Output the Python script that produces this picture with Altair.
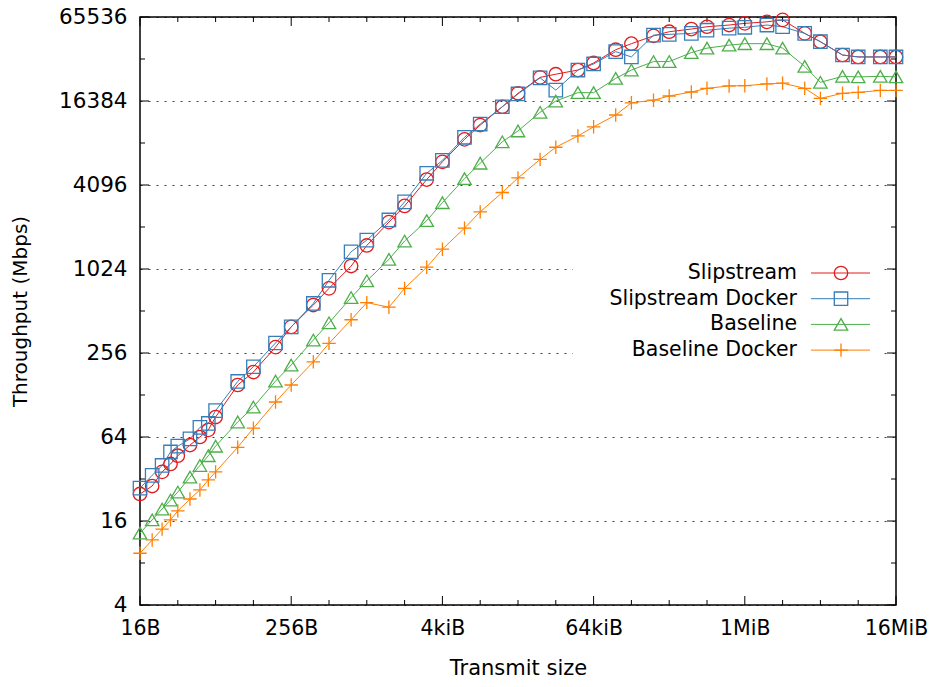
import altair as alt
import pandas as pd

# Transmit sizes in bytes
sizes = [16, 20, 24, 28, 32, 40, 48, 56, 64, 96, 128, 192, 256, 384, 512, 768,
         1024, 1536, 2048, 3072, 4096, 6144, 8192, 12288, 16384, 24576, 32768,
         49152, 65536, 98304, 131072, 196608, 262144, 393216, 524288, 786432,
         1048576, 1572864, 2097152, 3145728, 4194304, 6291456, 8388608,
         12582912, 16777216]

# Throughput in Mbps for each configuration
slipstream = [25, 28.5, 36, 41, 47, 56, 64, 72, 89, 151, 187, 282, 394, 565,
              744, 1075, 1510, 2220, 2900, 4480, 6000, 8700, 11000, 14900,
              18600, 24200, 25500, 27300, 30700, 38200, 42200, 48000, 51400,
              53700, 55800, 57400, 59000, 60500, 62500, 50000, 43600, 35000,
              33900, 33900, 33900]
slipstream_docker = [27.5, 34, 40, 50, 55, 62, 75, 80, 99, 160, 204, 302, 394,
                     580, 850, 1360, 1650, 2300, 3100, 4970, 6150, 9000, 11200,
                     14900, 18400, 24000, 19600, 27300, 30200, 37000, 33900,
                     48600, 49200, 50000, 52700, 54500, 55300, 57400, 55800,
                     50000, 43600, 35000, 33900, 33900, 33900]
baseline = [13.1, 16.3, 19.5, 22.6, 25.8, 33, 40, 47, 55, 82, 105, 161, 210,
            317, 421, 639, 842, 1200, 1625, 2275, 3060, 4550, 5870, 8350,
            10000, 13600, 16384, 18800, 18800, 23800, 27300, 31400, 31400,
            36400, 39200, 41200, 42200, 42200, 39200, 29000, 22300, 24600,
            24400, 24600, 24400]
baseline_docker = [9.4, 11.7, 14, 16.3, 18.9, 23, 26.7, 31.5, 36, 54, 74, 114,
                   151, 221, 300, 443, 588, 545, 744, 1055, 1420, 2010, 2630,
                   3620, 4600, 6250, 7640, 9200, 10700, 13000, 15900, 16600,
                   17800, 19000, 20200, 21000, 21100, 21700, 22000, 20200,
                   17100, 18600, 18900, 19500, 19500]

series_names = ["Slipstream", "Slipstream Docker", "Baseline", "Baseline Docker"]
series_values = [slipstream, slipstream_docker, baseline, baseline_docker]
series_colors = ["#e41a1c", "#377eb8", "#4daf4a", "#ff7f00"]
series_shapes = ["circle", "square", "triangle-up", "M-1,0L1,0M0,-1L0,1"]

# Axis ticks and labels
x_major = [16, 256, 4096, 65536, 1048576, 16777216]
x_labels = ["16B", "256B", "4kiB", "64kiB", "1MiB", "16MiB"]
x_minor = [2 ** k for k in range(5, 24) if 2 ** k not in x_major]
y_major = [4, 16, 64, 256, 1024, 4096, 16384, 65536]
y_minor = [8, 32, 128, 512, 2048, 8192, 32768]

rows = []
for i, (name, vals) in enumerate(zip(series_names, series_values)):
    for s, v in zip(sizes, vals):
        rows.append({"series": name, "order": i, "size": s, "mbps": v})
df = pd.DataFrame(rows)

W, H = 756, 588
FONT = "DejaVu Sans"

xscale = alt.Scale(type="log", base=2, domain=[16, 16777216], nice=False)
yscale = alt.Scale(type="log", base=2, domain=[4, 65536], nice=False)
color = alt.Color("series:N", scale=alt.Scale(domain=series_names, range=series_colors), legend=None)
shape = alt.Shape("series:N", scale=alt.Scale(domain=series_names, range=series_shapes), legend=None)

x_label_expr = " : ".join(f"datum.value == {v} ? '{t}'" for v, t in zip(x_major, x_labels)) + " : ''"

x_axis = alt.Axis(values=x_major, labelExpr=x_label_expr, ticks=False, domain=False,
                  grid=False, labelFlush=False, labelOverlap=False, labelPadding=13,
                  labelFontSize=20.5, labelColor="black", labelFont=FONT,
                  title="Transmit size", titleFontSize=21, titleFontWeight="normal",
                  titleColor="black", titleFont=FONT, titleX=W / 2, titleY=63,
                  titleBaseline="middle", titleAlign="center")
y_axis = alt.Axis(values=y_major, format="d", ticks=False, domain=False, grid=True,
                  gridDash=[2, 6], gridColor="black", gridOpacity=0.75, gridWidth=1,
                  labelFlush=False, labelOverlap=False, labelPadding=13,
                  labelFontSize=21.5, labelColor="black", labelFont=FONT,
                  title="Throughput (Mbps)", titleFontSize=20, titleFontWeight="normal",
                  titleColor="black", titleFont=FONT, titleX=-120, titleY=H / 2,
                  titleAngle=-90, titleBaseline="middle", titleAlign="center")


def X(field):
    return alt.X(field, scale=xscale, axis=x_axis)


def Y(field):
    return alt.Y(field, scale=yscale, axis=y_axis)


lines = alt.Chart(df).mark_line(strokeWidth=1).encode(
    x=X("size:Q"),
    y=Y("mbps:Q"),
    color=color,
    detail="series:N",
    order="size:Q",
)

points = alt.Chart(df).mark_point(filled=False, strokeWidth=1.3, opacity=1).encode(
    x=X("size:Q"),
    y=Y("mbps:Q"),
    color=color,
    shape=shape,
    size=alt.value(180),
)

# White backing behind the key so grid lines stop at it
key_bg = alt.Chart(pd.DataFrame({"k": [0]})).mark_rect(color="white").encode(
    x=alt.value(433), x2=alt.value(742), y=alt.value(241), y2=alt.value(347)
)


def y_ticks(values, length):
    d = pd.DataFrame({"v": values})
    base = alt.Chart(d).mark_rule(color="black", strokeWidth=1)
    left = base.encode(y=Y("v:Q"), x=alt.value(0), x2=alt.value(length))
    right = base.encode(y=Y("v:Q"), x=alt.value(W - length), x2=alt.value(W))
    return [left, right]


def x_ticks(values, length):
    d = pd.DataFrame({"v": values})
    base = alt.Chart(d).mark_rule(color="black", strokeWidth=1)
    bottom = base.encode(x=X("v:Q"), y=alt.value(H - length), y2=alt.value(H))
    top = base.encode(x=X("v:Q"), y=alt.value(0), y2=alt.value(length))
    return [bottom, top]


ticks = y_ticks(y_major, 9) + y_ticks(y_minor, 5) + x_ticks(x_major, 9) + x_ticks(x_minor, 5)

# Key entries: label on the left, line sample with marker on the right
key_layers = []
for i, name in enumerate(series_names):
    ky = 256 + 25.7 * i
    kd = pd.DataFrame({"series": [name]})
    key_layers.append(alt.Chart(kd).mark_text(align="right", baseline="middle", fontSize=20.5,
                                              font=FONT, color="black", text=name).encode(
        x=alt.value(657), y=alt.value(ky)))
    key_layers.append(alt.Chart(kd).mark_rule(strokeWidth=1).encode(
        x=alt.value(671), x2=alt.value(730), y=alt.value(ky), color=color))
    key_layers.append(alt.Chart(kd).mark_point(filled=False, strokeWidth=1.3, opacity=1).encode(
        x=alt.value(701), y=alt.value(ky), color=color, shape=shape, size=alt.value(180)))

chart = alt.layer(lines, key_bg, *ticks, points, *key_layers).properties(
    width=W,
    height=H,
    autosize=alt.AutoSizeParams(type="none"),
    padding={"left": 140, "top": 17, "right": 37, "bottom": 82},
).configure(
    font=FONT,
    background="white",
    view=alt.ViewConfig(stroke="black", strokeWidth=1.5),
)

chart.save("out.html", embed_options={"renderer": "svg", "actions": False})
